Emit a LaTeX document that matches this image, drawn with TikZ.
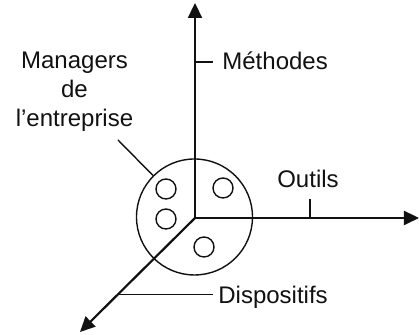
\documentclass[tikz,border=0pt]{standalone}
\usepackage{fontspec}
\setmainfont{Liberation Sans}
\usetikzlibrary{arrows.meta,positioning,calc}
\definecolor{cInk}{HTML}{111111}
\tikzset{
  axisline/.style={-{Triangle[length=7.5pt,width=7pt]},line width=1.1pt,color=cInk},
  tickline/.style={line width=0.7pt,color=cInk},
  ring/.style={draw=cInk,circle,line width=0.7pt,inner sep=0pt,minimum size=#1},
  ring/.default=10pt,
  lbl/.style={font=\fontsize{12}{14.5}\selectfont,text=cInk,inner sep=0pt,align=center},
}

\begin{document}
\begin{tikzpicture}[x=0.5pt,y=0.5pt]
  \useasboundingbox (0,0) rectangle (419,335);
  % axes
  \coordinate (o) at (195,117);
  \coordinate (up) at (195,332);
  \coordinate (right) at (419,117);
  \coordinate (down) at (80,3);
  % the group of managers
  \node[ring=58pt] (grp) at (194.5,118) {};
  \node[ring] (m1) at (166,146) {};
  \node[ring] (m2) at (166,116) {};
  \node[ring] (m3) at (223,147) {};
  \node[ring] (m4) at (204,88) {};
  \draw[axisline] (o) -- (up);
  \draw[axisline] (o) -- (right);
  \draw[axisline] (o) -- (down);
  % labels
  \node[lbl,anchor=base west] (meth) at (222,265) {Méthodes};
  \node[lbl,anchor=base] (outils) at (308,147) {Outils};
  \node[lbl,anchor=base west] (disp) at (218,31) {Dispositifs};
  \node[lbl] (mgr) at (74.5,243) {Managers\\de\\l’entreprise};
  \coordinate (mt) at (195,273);
  \coordinate (ot) at (310,117);
  \coordinate (dt) at ($(o)!0.67!(down)$);
  \coordinate (ml) at (118,195);
  \draw[tickline] (mt) -- ([xshift=-4.5pt]mt -| meth.west);
  \draw[tickline] (ot) -- ++(0,19);
  \draw[tickline] (dt) -- ([xshift=-2.5pt]dt -| disp.west);
  \draw[tickline] (ml) -- (grp.135);
\end{tikzpicture}
\end{document}
